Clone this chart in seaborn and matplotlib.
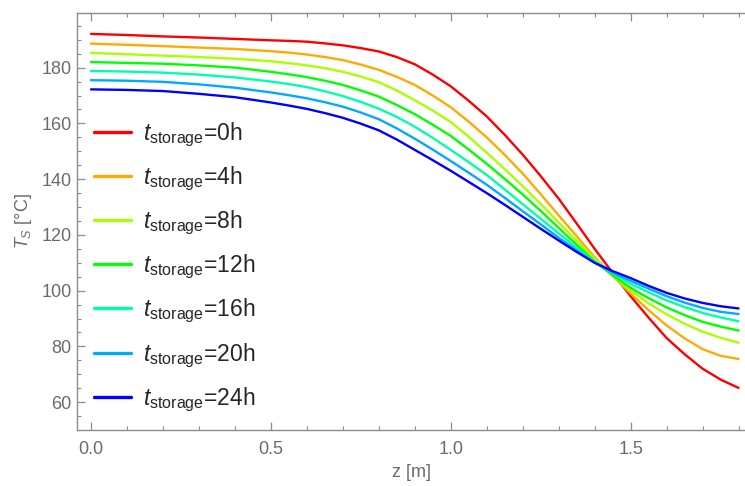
import numpy as np
import pandas as pd
import seaborn as sns
import matplotlib
matplotlib.use("Agg")
import matplotlib.pyplot as plt
from matplotlib.ticker import MultipleLocator

z = [0.0, 0.1, 0.2, 0.3, 0.4, 0.5, 0.55, 0.6, 0.65, 0.7, 0.75, 0.8, 0.85,
     0.9, 0.95, 1.0, 1.05, 1.1, 1.15, 1.2, 1.25, 1.3, 1.35, 1.4, 1.45,
     1.5, 1.55, 1.6, 1.65, 1.7, 1.75, 1.8]

# storage times [h]
hours = [0, 4, 8, 12, 16, 20, 24]

# T_S [ºC] for each storage time
T_0h = [192.1, 191.7, 191.2, 190.8, 190.3, 189.8, 189.6, 189.3, 188.7, 188.0,
        187.0, 185.8, 183.8, 181.2, 177.5, 173.3, 168.1, 162.5, 155.9, 148.8,
        141.1, 133.0, 124.1, 115.0, 106.4, 98.0, 90.3, 83.0, 77.2, 72.0,
        68.1, 65.1]
T_4h = [188.6, 188.2, 187.7, 187.2, 186.7, 185.9, 185.4, 184.7, 183.8, 182.7,
        181.1, 179.2, 176.7, 173.8, 170.0, 165.8, 160.6, 155.0, 148.7, 142.0,
        134.6, 127.0, 119.5, 112.0, 105.3, 99.0, 93.0, 87.5, 82.9, 79.0,
        76.6, 75.5]
T_8h = [185.3, 184.8, 184.3, 183.8, 183.2, 182.3, 181.6, 180.8, 179.8, 178.5,
        176.8, 174.8, 171.8, 168.3, 164.6, 160.5, 155.2, 149.5, 143.6, 137.5,
        131.1, 124.5, 118.0, 111.5, 105.5, 100.0, 95.4, 91.5, 88.1, 85.3,
        83.1, 81.3]
T_12h = [182.0, 181.7, 181.4, 180.8, 180.0, 178.5, 177.6, 176.6, 175.3, 173.8,
         171.8, 169.6, 166.6, 163.3, 159.5, 155.5, 150.6, 145.5, 140.1, 134.5,
         128.6, 122.5, 116.5, 110.5, 105.5, 101.0, 97.3, 94.0, 91.2, 88.8,
         87.1, 85.7]
T_16h = [178.8, 178.6, 178.2, 177.5, 176.5, 175.0, 174.1, 173.0, 171.5, 169.8,
         167.7, 165.3, 162.3, 158.8, 154.8, 150.5, 146.1, 141.5, 136.3, 131.0,
         125.8, 120.5, 115.3, 110.3, 106.2, 102.5, 99.4, 96.5, 94.1, 92.0,
         90.4, 89.0]
T_20h = [175.5, 175.3, 174.9, 174.0, 172.8, 171.1, 170.1, 169.0, 167.6, 166.0,
         163.9, 161.5, 158.2, 154.5, 150.6, 146.5, 142.3, 138.0, 133.3, 128.5,
         123.8, 119.0, 114.4, 110.0, 106.5, 103.5, 100.7, 98.0, 95.7, 93.8,
         92.4, 91.6]
T_24h = [172.2, 172.0, 171.6, 170.6, 169.4, 167.5, 166.4, 165.2, 163.7, 162.0,
         159.9, 157.5, 154.2, 150.5, 146.8, 143.0, 139.0, 135.0, 130.8, 126.5,
         122.2, 118.0, 113.9, 110.0, 107.0, 104.5, 101.7, 99.2, 97.2, 95.6,
         94.4, 93.6]

series = [T_0h, T_4h, T_8h, T_12h, T_16h, T_20h, T_24h]
labels = [r"$t_{\mathrm{storage}}$=%dh" % h for h in hours]

rows = []
for lab, vals in zip(labels, series):
    for zz, tt in zip(z, vals):
        rows.append({"z": zz, "T": tt, "label": lab})
df = pd.DataFrame(rows)

sns.set_theme(style="ticks")
plt.rcParams["font.family"] = ["Liberation Sans", "DejaVu Sans"]
plt.rcParams["mathtext.fontset"] = "custom"
plt.rcParams["mathtext.rm"] = "Liberation Sans"
plt.rcParams["mathtext.it"] = "Liberation Sans:italic"

# Mathematica style Hue[i/9]
colors = sns.hls_palette(9, h=0.0, l=0.5, s=1.0)[:7]

gray = "#8c8c8c"
txt = "#6b6b6b"
fig = plt.figure(figsize=(7.45, 4.86), dpi=100)
ax = fig.add_axes([77 / 745, 56 / 486, 668 / 745, 417 / 486])

sns.lineplot(data=df, x="z", y="T", hue="label", palette=colors, ax=ax,
             linewidth=1.7, legend=True)

ax.set_xlim(-0.039, 1.818)
ax.set_ylim(50, 199.6)
ax.xaxis.set_minor_locator(MultipleLocator(0.1))
ax.yaxis.set_major_locator(MultipleLocator(20))
ax.yaxis.set_minor_locator(MultipleLocator(5))
ax.set_xticks([0.0, 0.5, 1.0, 1.5])
ax.set_xticklabels(["0.0", "0.5", "1.0", "1.5"])

for s in ["left", "bottom", "top"]:
    ax.spines[s].set_color(gray)
    ax.spines[s].set_linewidth(1.0)
ax.spines["right"].set_visible(False)
ax.tick_params(which="both", direction="in", top=True, right=False,
               color=gray, labelcolor=txt, labelsize=13)
ax.tick_params(which="major", length=5.5, width=0.9)
ax.tick_params(which="minor", length=3.2, width=0.8)
ax.tick_params(axis="y", which="major", pad=4)
ax.tick_params(axis="x", which="major", pad=8)

ax.set_xlabel("z [m]", color=txt, fontsize=13, labelpad=4)
ax.set_ylabel(r"$T_S$ [°C]", color=txt, fontsize=13, labelpad=5)

handles, labs = ax.get_legend_handles_labels()
for h in handles:
    h.set_linewidth(2.4)
ax.legend(handles, labs, loc="upper left", bbox_to_anchor=(0.0254, 0.743),
          frameon=False, fontsize=16.5, handlelength=1.6, handletextpad=0.52,
          labelspacing=0.69, borderpad=0, borderaxespad=0)

fig.savefig("out.png", dpi=100)
